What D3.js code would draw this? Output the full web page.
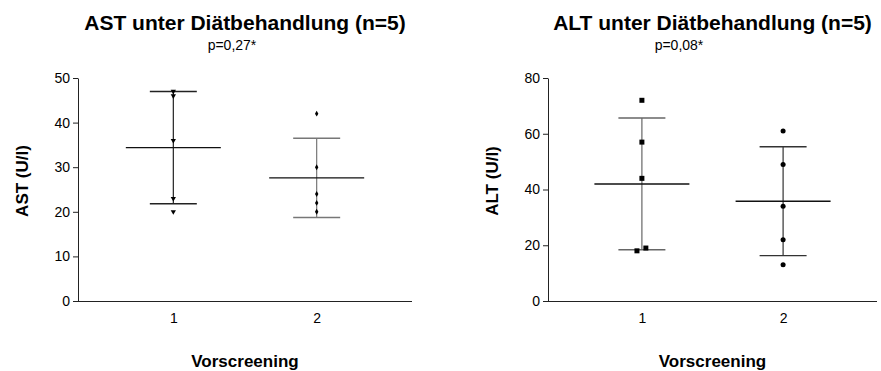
<!DOCTYPE html>
<html>
<head>
<meta charset="utf-8">
<script src="https://cdn.jsdelivr.net/npm/d3@7/dist/d3.min.js"></script>
<style>
  html, body { margin: 0; padding: 0; background: #fff; }
  svg { display: block; font-family: "Liberation Sans", Arial, sans-serif; }
</style>
</head>
<body>
<svg id="chart" width="881" height="371"></svg>
<script>
// Screening groups on the x axis
const groups = [1, 2];
const groupLabels = ["1", "2"];

// AST values (U/l) per patient
const astGroup1 = [47, 46, 36, 23, 20];
const astGroup2 = [42, 30, 24, 22, 20];
const astTicks = [0, 10, 20, 30, 40, 50];

// ALT values (U/l) per patient
const altGroup1 = [72, 57, 44, 19, 18];
const altGroup2 = [61, 49, 34, 22, 13];
const altTicks = [0, 20, 40, 60, 80];

// small horizontal spread for overlapping points (category units)
const altJitter1 = [0, 0, 0, 0.028, -0.035];

const titles = ["AST unter Diätbehandlung (n=5)", "ALT unter Diätbehandlung (n=5)"];
const pValues = ["p=0,27*", "p=0,08*"];
const yTitles = ["AST (U/l)", "ALT (U/l)"];
const xTitle = "Vorscreening";

const svg = d3.select("#chart");

function drawPanel(opt) {
  const g = svg.append("g");
  const x = d3.scaleLinear().domain([0.335, 2.665]).range([opt.left, opt.right]);
  const y = d3.scaleLinear().domain([0, opt.yMax]).range([301, 78]);

  // axes
  const yAxis = d3.axisLeft(y).tickValues(opt.ticks).tickSize(5).tickPadding(3).tickSizeOuter(0);
  const ya = g.append("g").attr("transform", `translate(${opt.left},0)`).call(yAxis);
  ya.select(".domain").attr("stroke", "#222");
  ya.selectAll(".tick line").attr("stroke", "#222");
  ya.selectAll(".tick text").attr("font-size", 14).attr("fill", "#000")
    .attr("font-family", "Liberation Sans, Arial, sans-serif");

  const xAxis = d3.axisBottom(x).tickValues(groups).tickFormat((d, i) => groupLabels[i])
    .tickSize(0).tickPadding(12).tickSizeOuter(0);
  const xa = g.append("g").attr("transform", `translate(0,301)`).call(xAxis);
  xa.select(".domain").attr("d", `M${opt.left},0.5H${opt.right}`).attr("stroke", "#222");
  xa.selectAll(".tick text").attr("font-size", 14).attr("fill", "#000")
    .attr("font-family", "Liberation Sans, Arial, sans-serif");

  // groups: mean line and mean ± SD whiskers, then points
  opt.series.forEach((vals, gi) => {
    const cx = x(groups[gi]);
    const m = d3.mean(vals);
    const sd = d3.deviation(vals);
    const stroke = opt.whisker[gi];
    g.append("line").attr("x1", cx).attr("x2", cx)
      .attr("y1", y(m + sd)).attr("y2", y(m - sd)).attr("stroke", stroke).attr("stroke-width", 1.2);
    [m + sd, m - sd].forEach(v => {
      g.append("line").attr("x1", cx - 23.5).attr("x2", cx + 23.5)
        .attr("y1", y(v)).attr("y2", y(v)).attr("stroke", stroke).attr("stroke-width", 1.4);
    });
    g.append("line").attr("x1", cx - 47.5).attr("x2", cx + 47.5)
      .attr("y1", y(m)).attr("y2", y(m)).attr("stroke", "#111").attr("stroke-width", 1.4);

    const sym = opt.symbols[gi];
    const jit = opt.jitter[gi];
    g.selectAll(null).data(vals).enter().append("path")
      .attr("d", d3.symbol().type(sym.type).size(sym.size))
      .attr("transform", (d, i) => `translate(${x(groups[gi] + (jit ? jit[i] : 0))},${y(d)}) rotate(${sym.rotate || 0})`)
      .attr("fill", "#000");
  });

  const cxMid = (opt.left + opt.right) / 2;
  g.append("text").attr("x", cxMid).attr("y", 30).attr("text-anchor", "middle")
    .attr("font-size", 21).attr("font-weight", "bold").text(opt.title);
  g.append("text").attr("x", opt.pX).attr("y", 50).attr("text-anchor", "middle")
    .attr("font-size", 14).text(opt.p);
  g.append("text").attr("transform", `translate(${opt.yTitleX},181) rotate(-90)`)
    .attr("text-anchor", "middle").attr("font-size", 17).attr("font-weight", "bold").text(opt.yTitle);
  g.append("text").attr("x", cxMid).attr("y", 367).attr("text-anchor", "middle")
    .attr("font-size", 17).attr("font-weight", "bold").text(xTitle);
}

drawPanel({
  left: 78, right: 412, yMax: 50, ticks: astTicks,
  series: [astGroup1, astGroup2],
  jitter: [null, null],
  whisker: ["#222", "#777"],
  symbols: [{ type: d3.symbolTriangle, size: 12, rotate: 180 }, { type: d3.symbolDiamond, size: 10 }],
  title: titles[0], p: pValues[0], pX: 232, yTitle: yTitles[0], yTitleX: 28
});

drawPanel({
  left: 548, right: 877, yMax: 80, ticks: altTicks,
  series: [altGroup1, altGroup2],
  jitter: [altJitter1, null],
  whisker: ["#666", "#333"],
  symbols: [{ type: d3.symbolSquare, size: 25 }, { type: d3.symbolCircle, size: 20 }],
  title: titles[1], p: pValues[1], pX: 679, yTitle: yTitles[1], yTitleX: 498
});
</script>
</body>
</html>
